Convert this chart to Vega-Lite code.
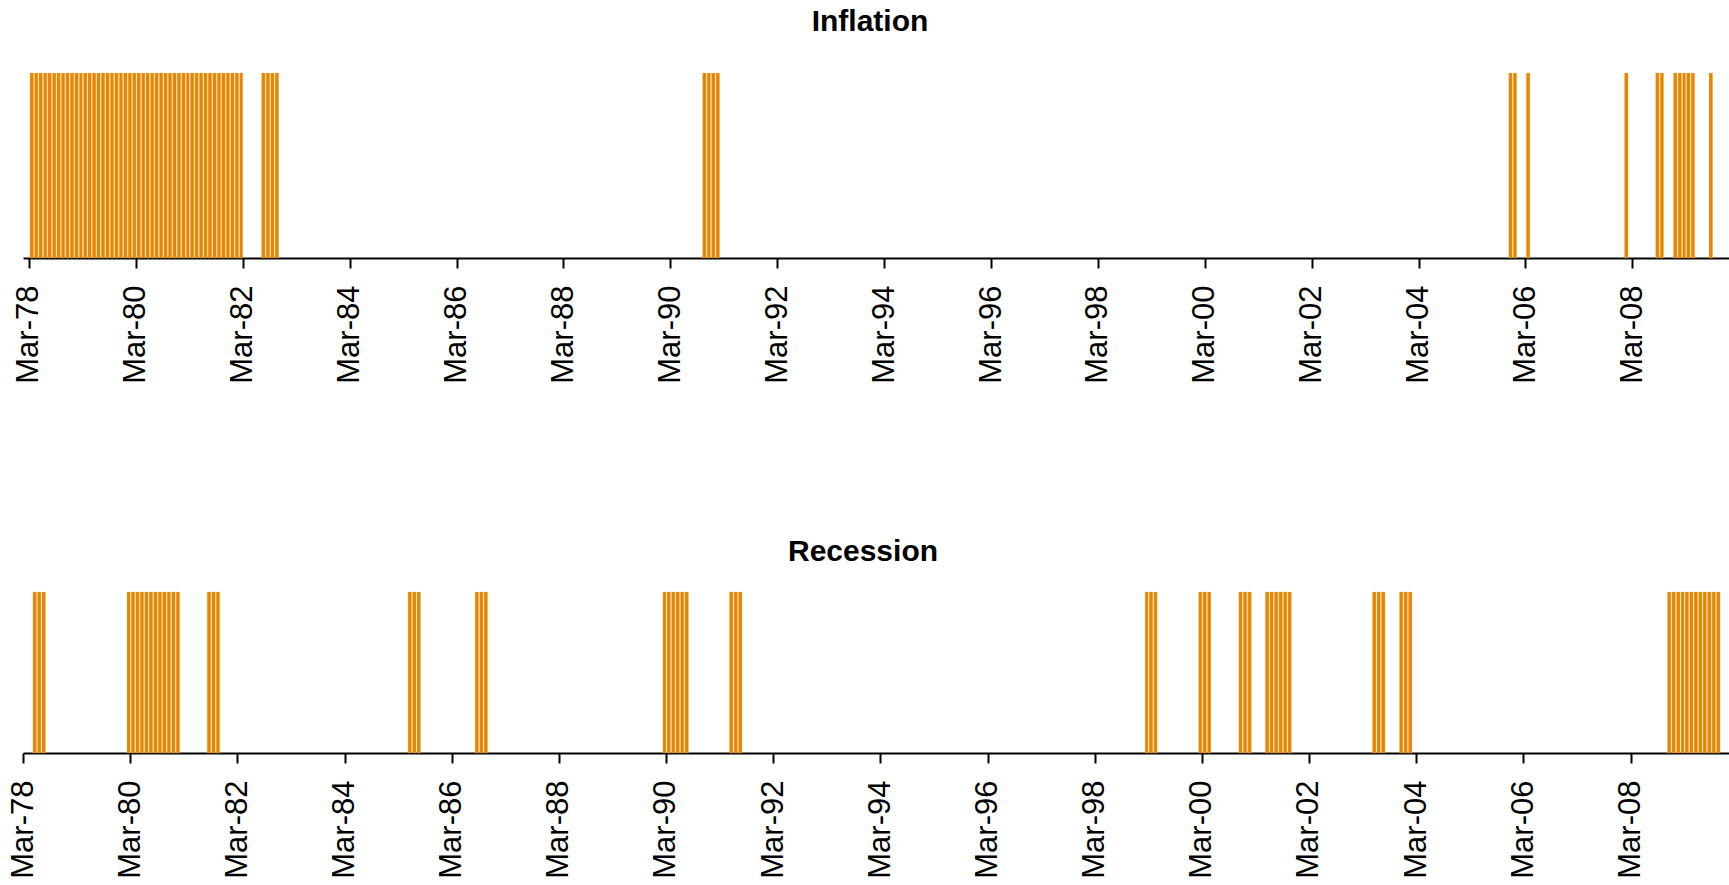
{
  "$schema": "https://vega.github.io/schema/vega-lite/v6.json",
  "padding": {"left": 7, "top": 6, "right": 0, "bottom": 0},
  "background": "white",
  "config": {
    "view": {"stroke": null},
    "font": "Liberation Sans",
    "title": {"font": "Liberation Sans", "fontSize": 30, "fontWeight": "bold", "color": "black"}
  },
  "datasets": {
    "inflation": [
      {"month": "1978-03"},{"month": "1978-04"},{"month": "1978-05"},{"month": "1978-06"},{"month": "1978-07"},{"month": "1978-08"},{"month": "1978-09"},{"month": "1978-10"},{"month": "1978-11"},{"month": "1978-12"},
      {"month": "1979-01"},{"month": "1979-02"},{"month": "1979-03"},{"month": "1979-04"},{"month": "1979-05"},{"month": "1979-06"},{"month": "1979-07"},{"month": "1979-08"},{"month": "1979-09"},{"month": "1979-10"},{"month": "1979-11"},{"month": "1979-12"},
      {"month": "1980-01"},{"month": "1980-02"},{"month": "1980-03"},{"month": "1980-04"},{"month": "1980-05"},{"month": "1980-06"},{"month": "1980-07"},{"month": "1980-08"},{"month": "1980-09"},{"month": "1980-10"},{"month": "1980-11"},{"month": "1980-12"},
      {"month": "1981-01"},{"month": "1981-02"},{"month": "1981-03"},{"month": "1981-04"},{"month": "1981-05"},{"month": "1981-06"},{"month": "1981-07"},{"month": "1981-08"},{"month": "1981-09"},{"month": "1981-10"},{"month": "1981-11"},{"month": "1981-12"},
      {"month": "1982-01"},{"month": "1982-02"},
      {"month": "1982-07"},{"month": "1982-08"},{"month": "1982-09"},{"month": "1982-10"},
      {"month": "1990-10"},{"month": "1990-11"},{"month": "1990-12"},{"month": "1991-01"},
      {"month": "2005-11"},{"month": "2005-12"},{"month": "2006-03"},{"month": "2008-01"},{"month": "2008-08"},{"month": "2008-09"},
      {"month": "2008-12"},{"month": "2009-01"},{"month": "2009-02"},{"month": "2009-03"},{"month": "2009-04"},{"month": "2009-08"}
    ],
    "recession": [
      {"month": "1978-05"},{"month": "1978-06"},{"month": "1978-07"},
      {"month": "1980-02"},{"month": "1980-03"},{"month": "1980-04"},{"month": "1980-05"},{"month": "1980-06"},{"month": "1980-07"},{"month": "1980-08"},{"month": "1980-09"},{"month": "1980-10"},{"month": "1980-11"},{"month": "1980-12"},{"month": "1981-01"},
      {"month": "1981-08"},{"month": "1981-09"},{"month": "1981-10"},
      {"month": "1985-05"},{"month": "1985-06"},{"month": "1985-07"},
      {"month": "1986-08"},{"month": "1986-09"},{"month": "1986-10"},
      {"month": "1990-02"},{"month": "1990-03"},{"month": "1990-04"},{"month": "1990-05"},{"month": "1990-06"},{"month": "1990-07"},
      {"month": "1991-05"},{"month": "1991-06"},{"month": "1991-07"},
      {"month": "1999-02"},{"month": "1999-03"},{"month": "1999-04"},
      {"month": "2000-02"},{"month": "2000-03"},{"month": "2000-04"},
      {"month": "2000-11"},{"month": "2000-12"},{"month": "2001-01"},
      {"month": "2001-05"},{"month": "2001-06"},{"month": "2001-07"},{"month": "2001-08"},{"month": "2001-09"},{"month": "2001-10"},
      {"month": "2003-05"},{"month": "2003-06"},{"month": "2003-07"},
      {"month": "2003-11"},{"month": "2003-12"},{"month": "2004-01"},
      {"month": "2008-11"},{"month": "2008-12"},{"month": "2009-01"},{"month": "2009-02"},{"month": "2009-03"},{"month": "2009-04"},{"month": "2009-05"},{"month": "2009-06"},{"month": "2009-07"},{"month": "2009-08"},{"month": "2009-09"},{"month": "2009-10"}
    ]
  },
  "spacing": 152,
  "vconcat": [
    {
      "title": {"text": "Inflation", "offset": 36, "dx": -6},
      "width": 1706,
      "height": 185,
      "data": {"name": "inflation", "format": {"parse": {"month": "utc:'%Y-%m'"}}},
      "mark": {"type": "bar", "color": "#E58600", "stroke": "#F0B868", "strokeWidth": 0.3},
      "encoding": {
        "x": {
          "field": "month", "type": "temporal", "timeUnit": "utcyearmonth",
          "scale": {"domain": [{"year": 1978, "month": 1, "date": 19, "utc": true}, {"year": 2009, "month": 12, "date": 22, "utc": true}]},
          "axis": {
            "title": null, "grid": false, "labelExpr": "utcFormat(datum.value, '%b-%y')",
            "domainColor": "black", "domainWidth": 2, "tickColor": "black", "tickWidth": 2, "tickSize": 10,
            "labelFont": "Liberation Sans", "labelFontSize": 31, "labelColor": "black", "labelAngle": 270,
            "labelPadding": 17, "labelOverlap": false, "labelFlush": false,
            "values": [
              {"year": 1978, "month": 3, "date": 1, "utc": true},
              {"year": 1980, "month": 3, "date": 1, "utc": true},
              {"year": 1982, "month": 3, "date": 1, "utc": true},
              {"year": 1984, "month": 3, "date": 1, "utc": true},
              {"year": 1986, "month": 3, "date": 1, "utc": true},
              {"year": 1988, "month": 3, "date": 1, "utc": true},
              {"year": 1990, "month": 3, "date": 1, "utc": true},
              {"year": 1992, "month": 3, "date": 1, "utc": true},
              {"year": 1994, "month": 3, "date": 1, "utc": true},
              {"year": 1996, "month": 3, "date": 1, "utc": true},
              {"year": 1998, "month": 3, "date": 1, "utc": true},
              {"year": 2000, "month": 3, "date": 1, "utc": true},
              {"year": 2002, "month": 3, "date": 1, "utc": true},
              {"year": 2004, "month": 3, "date": 1, "utc": true},
              {"year": 2006, "month": 3, "date": 1, "utc": true},
              {"year": 2008, "month": 3, "date": 1, "utc": true}
            ]
          }
        },
        "y": {"aggregate": "count", "type": "quantitative", "scale": {"domain": [0, 1]}, "axis": null}
      }
    },
    {
      "title": {"text": "Recession", "offset": 25, "dx": -13},
      "width": 1706,
      "height": 161,
      "data": {"name": "recession", "format": {"parse": {"month": "utc:'%Y-%m'"}}},
      "mark": {"type": "bar", "color": "#E58600", "stroke": "#F0B868", "strokeWidth": 0.3},
      "encoding": {
        "x": {
          "field": "month", "type": "temporal", "timeUnit": "utcyearmonth",
          "scale": {"domain": [{"year": 1978, "month": 3, "date": 1, "utc": true}, {"year": 2010, "month": 1, "date": 1, "utc": true}]},
          "axis": {
            "title": null, "grid": false, "labelExpr": "utcFormat(datum.value, '%b-%y')",
            "domainColor": "black", "domainWidth": 2, "tickColor": "black", "tickWidth": 2, "tickSize": 10,
            "labelFont": "Liberation Sans", "labelFontSize": 31, "labelColor": "black", "labelAngle": 270,
            "labelPadding": 17, "labelOverlap": false, "labelFlush": false,
            "values": [
              {"year": 1978, "month": 3, "date": 1, "utc": true},
              {"year": 1980, "month": 3, "date": 1, "utc": true},
              {"year": 1982, "month": 3, "date": 1, "utc": true},
              {"year": 1984, "month": 3, "date": 1, "utc": true},
              {"year": 1986, "month": 3, "date": 1, "utc": true},
              {"year": 1988, "month": 3, "date": 1, "utc": true},
              {"year": 1990, "month": 3, "date": 1, "utc": true},
              {"year": 1992, "month": 3, "date": 1, "utc": true},
              {"year": 1994, "month": 3, "date": 1, "utc": true},
              {"year": 1996, "month": 3, "date": 1, "utc": true},
              {"year": 1998, "month": 3, "date": 1, "utc": true},
              {"year": 2000, "month": 3, "date": 1, "utc": true},
              {"year": 2002, "month": 3, "date": 1, "utc": true},
              {"year": 2004, "month": 3, "date": 1, "utc": true},
              {"year": 2006, "month": 3, "date": 1, "utc": true},
              {"year": 2008, "month": 3, "date": 1, "utc": true}
            ]
          }
        },
        "y": {"aggregate": "count", "type": "quantitative", "scale": {"domain": [0, 1]}, "axis": null}
      }
    }
  ]
}
